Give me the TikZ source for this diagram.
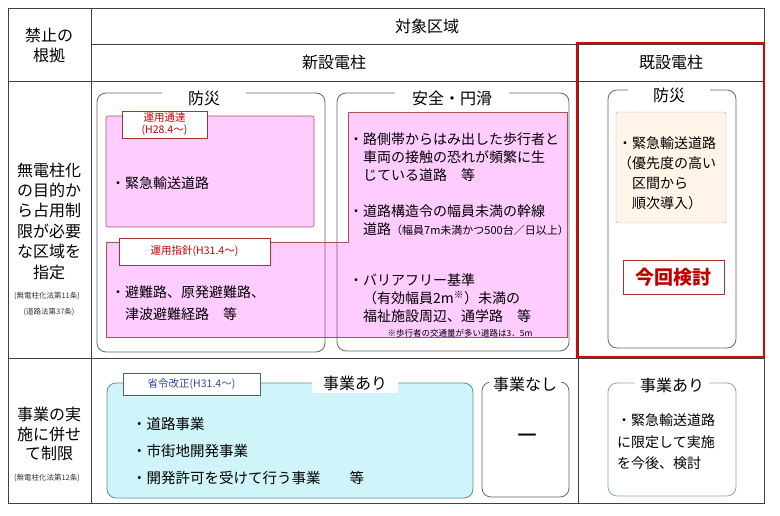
\documentclass[tikz,border=0pt]{standalone}
\usepackage{fontspec}
\setmainfont{Noto Sans CJK JP}
\definecolor{pinkfill}{HTML}{FFCCFF}
\definecolor{pinkline}{HTML}{B0505A}
\definecolor{tagline}{HTML}{B03030}
\definecolor{tagred}{HTML}{C00000}
\definecolor{redframe}{HTML}{E00000}
\definecolor{cream}{HTML}{FFF4E8}
\definecolor{creamline}{HTML}{E09A9A}
\definecolor{cyanfill}{HTML}{CFF5FA}
\definecolor{cyanline}{HTML}{5F8DAA}
\definecolor{bluegray}{HTML}{4A5A80}
\definecolor{bluetext}{HTML}{2E4A9A}
\definecolor{lightblue}{HTML}{7FAACC}
\begin{document}
\begin{tikzpicture}[x=1pt,y=-1pt,
    grid/.style = {draw=black!75, line width=0.8pt},
    group/.style = {draw=black!60, line width=0.8pt, rounded corners=9pt},
    pinkbox/.style = {fill=pinkfill, draw=pinkline, line width=0.6pt},
    head/.style = {font=\fontsize{16}{20}\selectfont, inner sep=0pt},
    title/.style = {fill=white, inner ysep=1pt, font=\fontsize{16}{20}\selectfont},
    tag/.style = {draw=tagline, fill=white, line width=0.8pt, text=tagred, align=center, inner sep=0pt, font=\fontsize{10.5}{12}\selectfont},
    body/.style = {anchor=west, align=left, inner sep=0pt, font=\fontsize{14}{18}\selectfont},
    law/.style = {font=\fontsize{7.5}{9}\selectfont, text=black!80, inner sep=0pt}]
    \useasboundingbox (0,0) rectangle (780,516);

    \draw[grid] (8,8) rectangle (764,503);
    \draw[grid] (91,8) -- (91,503);
    \draw[grid] (91,44) -- (764,44);
    \draw[grid] (8,81) -- (764,81);
    \draw[grid] (8,358) -- (764,358);
    \draw[grid] (578,44) -- (578,503);

    \node[head, align=center, font=\fontsize{16}{20}\selectfont] (basis) at (49,45) {禁止の\\根拠};
    \node[head] (area) at (427,26) {対象区域};
    \node[head] (newpole) at (334,62) {新設電柱};
    \node[head] (oldpole) at (671,62) {既設電柱};
    \node[head, align=center, font=\fontsize{16}{20.4}\selectfont] (purpose) at (49,221) {無電柱化\\の目的か\\ら占用制\\限が必要\\な区域を\\指定};
    \node[law] (law11) at (47,296) {(無電柱化法第11条)};
    \node[law] (law37) at (49,312) {(道路法第37条)};
    \node[head, align=center, font=\fontsize{16}{19.5}\selectfont] (project) at (49,434) {事業の実\\施に併せ\\て制限};
    \node[law] (law12) at (47,478) {(無電柱化法第12条)};

    \draw[pinkbox, rounded corners=2pt] (106,116) rectangle (314,227);
    \draw[pinkbox] (106,242) -- (348,242) -- (348,112) -- (567,112) -- (567,337) -- (106,337) -- cycle;
    \draw[fill=cream, draw=creamline, rounded corners=2pt] (616,112) rectangle (726,223);

    \draw[group] (97,93) rectangle (325,352);
    \draw[group] (337,93) rectangle (569,351);
    \draw[group] (608,90) rectangle (736,348);
    \draw[group, draw=cyanline, fill=cyanfill] (107,383) rectangle (473,498);
    \draw[group] (482,382) rectangle (569,497);
    \draw[group, draw=lightblue] (608,383) rectangle (736,496);
    \draw[draw=redframe, line width=2.5pt] (577,43) rectangle (764,357);

    \node[title, inner xsep=26pt] (disaster) at (204,98) {防災};
    \node[title, inner xsep=17pt] (safety) at (452,98) {安全・円滑};
    \node[title, inner xsep=25pt] (disaster2) at (669,95) {防災};
    \node[title, minimum width=86pt, minimum height=20pt, inner sep=0pt] (withwork) at (355,383) {事業あり};
    \node[title, inner xsep=4pt] (nowork) at (525,384) {事業なし};
    \node[title, inner xsep=5pt] (withwork2) at (672,385) {事業あり};

    \node[tag, minimum width=85pt, minimum height=27pt] (notice) at (164.5,124.5) {運用通達\\(H28.4～)};
    \node[tag, minimum width=151pt, minimum height=27pt] (guide) at (194.5,251.5) {運用指針(H31.4～)};
    \node[tag, draw=bluegray, text=bluetext, minimum width=137pt, minimum height=22pt] (ordinance) at (191.5,384) {省令改正(H31.4～)};

    \node[body] (road1) at (111,183) {・緊急輸送道路};
    \node[body, font=\fontsize{14}{22}\selectfont] (road2) at (111,303) {・避難路、原発避難路、\\\phantom{・}津波避難経路　等};
    \node[body] (sideway) at (349,157) {・路側帯からはみ出した歩行者と\\\phantom{・}車両の接触の恐れが頻繁に生\\\phantom{・}じている道路　等};
    \node[body] (trunk) at (349,220) {・道路構造令の幅員未満の幹線\\\phantom{・}道路{\fontsize{11}{18}\selectfont （幅員7m未満かつ500台／日以上）}};
    \node[body] (barrier) at (349,298) {・バリアフリー基準\\\phantom{・}（有効幅員2m\textsuperscript{※}）未満の\\\phantom{・}福祉施設周辺、通学路　等};
    \node[font=\fontsize{8.5}{10}\selectfont, inner sep=0pt] (note) at (460,333) {※歩行者の交通量が多い道路は3．5m};

    \node[body, font=\fontsize{14}{20}\selectfont] (urgent) at (618,173) {・緊急輸送道路\\（優先度の高い\\\phantom{（}区間から\\\phantom{（}順次導入）};
    \node[draw=tagline, line width=0.8pt, text=tagred, font=\fontsize{19}{22}\selectfont\bfseries, minimum width=101pt, minimum height=34pt, inner sep=0pt] (review) at (673.5,277) {今回検討};

    \node[body, font=\fontsize{14.5}{27}\selectfont] (works) at (132,451) {・道路事業\\・市街地開発事業\\・開発許可を受けて行う事業　　等};
    \node[font=\fontsize{22}{24}\selectfont, inner sep=0pt] (none) at (527,439) {ー};
    \node[body, font=\fontsize{14}{21.5}\selectfont] (limited) at (617,442) {・緊急輸送道路\\に限定して実施\\を今後、検討};
\end{tikzpicture}
\end{document}
